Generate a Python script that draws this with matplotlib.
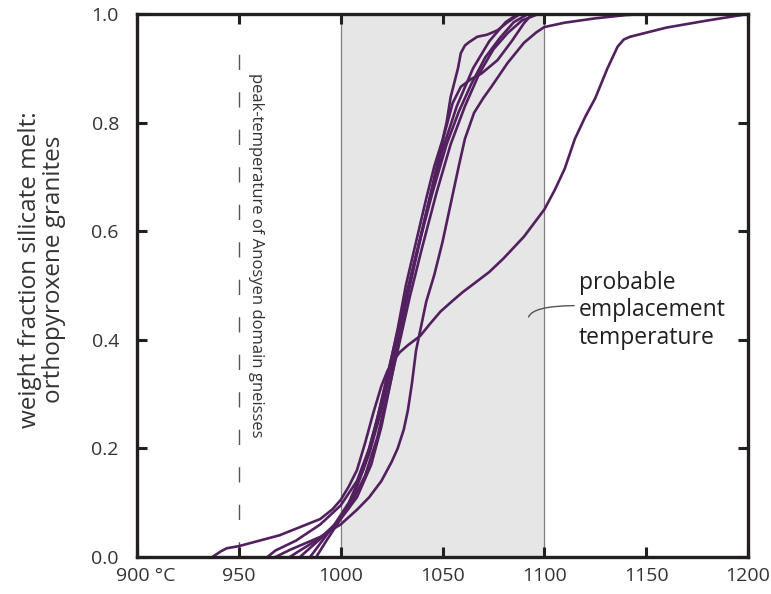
import matplotlib
matplotlib.use('Agg')
import matplotlib.pyplot as plt
import matplotlib.transforms as mtransforms

plt.rcParams['font.family'] = ['Open Sans', 'DejaVu Sans']

LINE = '#52205f'
TEXT = '#333333'

# melt fraction curves, temperature (degC) vs weight fraction melt
broad_t = [937, 941, 944, 950, 960, 970, 980, 990, 996, 1000, 1004, 1008, 1012, 1016, 1020, 1023, 1026, 1029, 1033, 1039, 1044, 1049, 1055, 1060, 1066, 1073, 1080, 1090, 1100, 1105, 1110, 1115, 1120, 1125, 1131, 1136, 1139, 1142, 1160, 1180, 1200]
broad_y = [0.0, 0.01, 0.016, 0.02, 0.03, 0.04, 0.055, 0.07, 0.088, 0.105, 0.13, 0.16, 0.21, 0.265, 0.315, 0.343, 0.362, 0.377, 0.39, 0.407, 0.43, 0.452, 0.472, 0.488, 0.505, 0.525, 0.55, 0.59, 0.64, 0.675, 0.715, 0.77, 0.81, 0.845, 0.9, 0.94, 0.953, 0.958, 0.975, 0.988, 1.0]

lag_t = [968, 975, 990, 1000, 1008, 1014, 1020, 1025, 1028, 1031, 1033, 1035, 1037, 1042, 1046, 1050, 1054, 1058, 1061, 1065.5, 1070, 1074, 1082, 1090, 1096, 1100, 1110, 1125, 1140, 1150]
lag_y = [0.0, 0.013, 0.037, 0.06, 0.087, 0.11, 0.14, 0.175, 0.2, 0.235, 0.27, 0.32, 0.38, 0.47, 0.52, 0.58, 0.65, 0.72, 0.77, 0.818, 0.845, 0.866, 0.91, 0.947, 0.966, 0.976, 0.984, 0.992, 0.998, 1.0]

kink_t = [964, 968, 978, 990, 1000, 1008, 1014, 1019, 1024, 1028, 1032, 1037, 1042, 1046, 1050, 1052, 1054, 1057.6, 1059, 1061, 1063, 1067, 1072, 1077, 1082, 1088]
kink_y = [0.0, 0.012, 0.03, 0.06, 0.095, 0.14, 0.2, 0.27, 0.35, 0.42, 0.5, 0.58, 0.66, 0.72, 0.768, 0.8, 0.847, 0.9, 0.928, 0.942, 0.948, 0.958, 0.962, 0.97, 0.985, 1.0]

mid_t = [975, 980, 990, 1000, 1008, 1015, 1020, 1025, 1029, 1034, 1040, 1046, 1051, 1055, 1059, 1064, 1069, 1077, 1084, 1090, 1094]
mid_y = [0.0, 0.012, 0.035, 0.07, 0.11, 0.17, 0.24, 0.33, 0.41, 0.5, 0.6, 0.7, 0.78, 0.836, 0.866, 0.88, 0.89, 0.915, 0.95, 0.983, 1.0]

c5_t = [985, 990, 997, 1004, 1011, 1017, 1022, 1027, 1032, 1038, 1045, 1052, 1058, 1064, 1071, 1078, 1085, 1092]
c5_y = [0.0, 0.025, 0.06, 0.1, 0.16, 0.24, 0.32, 0.4, 0.48, 0.57, 0.67, 0.76, 0.82, 0.87, 0.92, 0.955, 0.985, 1.0]

c6_t = [980, 986, 995, 1004, 1012, 1018, 1023, 1028, 1034, 1040, 1047, 1054, 1061, 1068, 1075, 1082, 1089, 1097]
c6_y = [0.0, 0.02, 0.05, 0.09, 0.15, 0.22, 0.3, 0.38, 0.48, 0.57, 0.67, 0.76, 0.83, 0.89, 0.935, 0.965, 0.988, 1.0]

c7_t = [988, 993, 1000, 1007, 1014, 1020, 1025, 1030, 1036, 1043, 1050, 1057, 1065, 1073, 1081, 1087]
c7_y = [0.0, 0.03, 0.07, 0.12, 0.19, 0.27, 0.35, 0.44, 0.54, 0.65, 0.75, 0.83, 0.9, 0.95, 0.985, 1.0]

curves = [(broad_t, broad_y), (lag_t, lag_y), (kink_t, kink_y), (mid_t, mid_y),
          (c5_t, c5_y), (c6_t, c6_y), (c7_t, c7_y)]

x_ticks = [900, 950, 1000, 1050, 1100, 1150, 1200]
x_labels = ['900 \u00b0C', '950', '1000', '1050', '1100', '1150', '1200']
y_ticks = [0.0, 0.2, 0.4, 0.6, 0.8, 1.0]
y_labels = ['0.0', '0.2', '0.4', '0.6', '0.8', '1.0']

emplacement = (1000, 1100)
peak_temp = 950

fig = plt.figure(figsize=(7.71, 5.94), dpi=100)
ax = fig.add_axes([137 / 771, 1 - 557 / 594, 611 / 771, 543 / 594])

ax.axvspan(emplacement[0], emplacement[1], facecolor='#e6e6e6', edgecolor='none', zorder=0)
for t in emplacement:
    ax.axvline(t, color='#7f7f7f', lw=0.9, zorder=1)

ax.plot([peak_temp, peak_temp], [0, 0.965], color='#555555', lw=1.0, dashes=(11, 16), zorder=1)
ax.text(958.5, 0.555, 'peak-temperature of Anosyen domain gneisses', rotation=270,
        ha='center', va='center', fontsize=12, color=TEXT)

for t, y in curves:
    ax.plot(t, y, color=LINE, lw=1.9, solid_capstyle='round', solid_joinstyle='round', zorder=3)

ax.text(1117, 0.454, 'probable\nemplacement\ntemperature', ha='left', va='center',
        fontsize=16.5, color='#231f20', linespacing=1.2)
ax.annotate('', xy=(1092, 0.437), xytext=(1116, 0.463),
            arrowprops=dict(arrowstyle='-', color='#555555', lw=1.0,
                            connectionstyle='angle3,angleA=0,angleB=90'))

ax.set_xlim(900, 1200)
ax.set_ylim(0, 1)
ax.set_xticks(x_ticks)
ax.set_xticklabels(x_labels)
ax.set_yticks(y_ticks)
ax.set_yticklabels(y_labels)
ax.tick_params(direction='in', length=7, width=2.2, top=True, right=True,
               labelsize=14, labelcolor=TEXT, color='#231f20')
ax.tick_params(axis='x', pad=7)
ax.tick_params(axis='y', pad=13)
for s in ax.spines.values():
    s.set_linewidth(2.4)
    s.set_color('#231f20')
    s.set_zorder(5)

# keep the number of the first label centred on its tick
lab0 = ax.get_xticklabels()[0]
lab0.set_horizontalalignment('left')
lab0.set_transform(lab0.get_transform() + mtransforms.ScaledTranslation(-21 / 100, 0, fig.dpi_scale_trans))

ax.set_ylabel('weight fraction silicate melt:\northopyroxene granites', fontsize=17.5,
              color=TEXT, linespacing=1.0)
ax.yaxis.set_label_coords(-0.117, 0.53)

fig.savefig('out.png', dpi=100)
